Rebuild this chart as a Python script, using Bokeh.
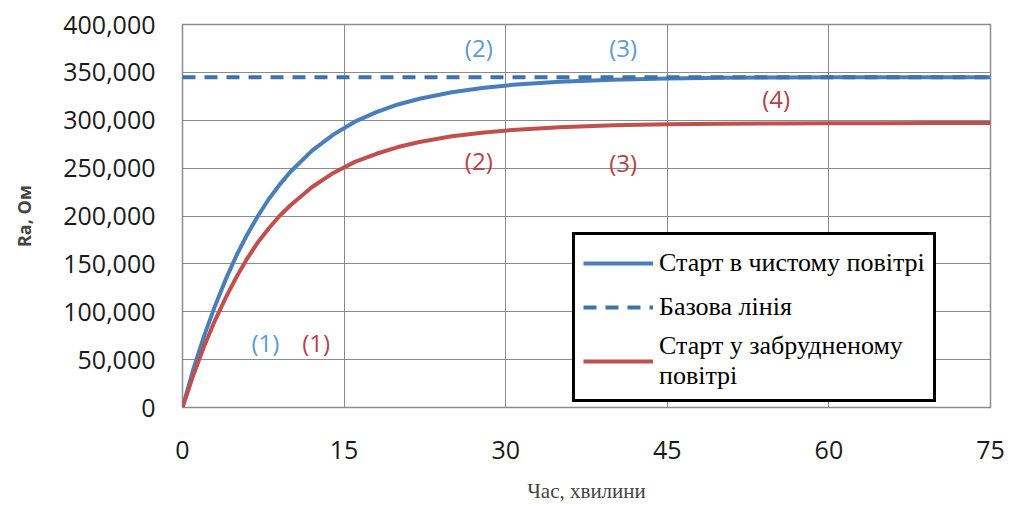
from bokeh.plotting import figure
from bokeh.models import (ColumnDataSource, Legend, LegendItem, NumeralTickFormatter,
                          FixedTicker, Range1d)
from bokeh.embed import file_html
from bokeh.resources import INLINE

# ---- data ----
t_min = [0, 1, 2, 3, 4, 5, 6, 7, 8, 9, 10, 12, 14, 16, 18, 20, 22, 25, 28, 31,
         35, 40, 45, 50, 55, 60, 65, 70, 75]
clean_start = [0, 39700, 74600, 105600, 133500, 158500, 180500, 200000, 217500,
               232500, 246000, 268000, 285000, 298500, 308500, 316500, 322500,
               329200, 334000, 337300, 340300, 342400, 343600, 344300, 344600,
               344800, 344900, 345000, 345000]
dirty_start = [0, 33600, 63600, 90500, 114500, 136000, 155500, 172500, 187000,
               200000, 211000, 230000, 245000, 256500, 265000, 272000, 277300,
               283200, 287300, 290200, 292800, 294700, 295800, 296300, 296600,
               296800, 296900, 297000, 297000]
baseline_t = [0, 75]
baseline_val = [345000, 345000]

x_ticks = [0, 15, 30, 45, 60, 75]
y_ticks = [0, 50000, 100000, 150000, 200000, 250000, 300000, 350000, 400000]

blue_labels = ["(1)", "(2)", "(3)"]
blue_lx = [7.7, 27.5, 40.9]
blue_ly = [67900, 376000, 376000]
red_labels = ["(1)", "(2)", "(3)", "(4)"]
red_lx = [12.4, 27.5, 40.9, 55.1]
red_ly = [67900, 258000, 255900, 322800]

legend_names = ["Старт в чистому повітрі", "Базова лінія", "Старт у забрудненому\nповітрі"]

BLUE = "#4a7ebb"
BLUE_DASH = "#3f72ad"
RED = "#c0504d"
GRID = "#8c8c8c"

p = figure(width=1008, height=506, output_backend="svg", toolbar_location=None,
           x_range=Range1d(0, 75), y_range=Range1d(0, 400000),
           min_border_left=182, min_border_right=18, min_border_top=24,
           min_border_bottom=99)
p.background_fill_color = "white"
p.border_fill_color = "white"
p.outline_line_color = GRID
p.outline_line_width = 1.5

p.xgrid.grid_line_color = GRID
p.ygrid.grid_line_color = GRID
p.xgrid.grid_line_width = 1
p.ygrid.grid_line_width = 1

p.xaxis.ticker = FixedTicker(ticks=x_ticks)
p.yaxis.ticker = FixedTicker(ticks=y_ticks)
p.yaxis.formatter = NumeralTickFormatter(format="0,0")
for ax in (p.xaxis, p.yaxis):
    ax.axis_line_color = None
    ax.major_tick_line_color = None
    ax.minor_tick_line_color = None
    ax.major_label_text_font = "Open Sans"
    ax.major_label_text_font_size = "25px"
    ax.major_label_text_color = "#1a1a1a"
p.yaxis.major_label_standoff = 21
p.xaxis.major_label_standoff = 27

p.xaxis.axis_label = "Час, хвилини"
p.xaxis.axis_label_text_font = "Liberation Serif"
p.xaxis.axis_label_text_font_style = "normal"
p.xaxis.axis_label_text_font_size = "21px"
p.xaxis.axis_label_standoff = 17
p.yaxis.axis_label = "Ra, Ом"
p.yaxis.axis_label_text_font = "Open Sans"
p.yaxis.axis_label_text_font_style = "bold"
p.yaxis.axis_label_text_font_size = "18px"
p.yaxis.axis_label_standoff = 24

src = ColumnDataSource(dict(t=t_min, clean=clean_start, dirty=dirty_start))
r_blue = p.line("t", "clean", source=src, line_color=BLUE, line_width=4)
r_red = p.line("t", "dirty", source=src, line_color=RED, line_width=4)
r_base = p.line(baseline_t, baseline_val, line_color=BLUE_DASH, line_width=4,
                line_dash="13 9")

p.text(blue_lx, blue_ly, text=blue_labels, text_color="#5b9bd5",
       text_font_size="24px", text_align="center", text_baseline="middle",
       text_font={"value": "Open Sans"})
p.text(red_lx, red_ly, text=red_labels, text_color="#b8404a",
       text_font_size="24px", text_align="center", text_baseline="middle",
       text_font={"value": "Open Sans"})

legend = Legend(items=[LegendItem(label=legend_names[0], renderers=[r_blue]),
                       LegendItem(label=legend_names[1], renderers=[r_base]),
                       LegendItem(label=legend_names[2], renderers=[r_red])],
                location=(390, 5))
legend.border_line_color = "black"
legend.border_line_alpha = 1.0
legend.border_line_width = 3
legend.label_text_font = "Liberation Serif"
legend.label_text_font_size = "26px"
legend.label_text_color = "black"
legend.glyph_width = 70
legend.label_height = 40
legend.label_standoff = 6
legend.spacing = 4
legend.padding = 8
legend.margin = 0
legend.background_fill_alpha = 1
p.add_layout(legend, "center")

open("out.html", "w").write(file_html(p, INLINE))
